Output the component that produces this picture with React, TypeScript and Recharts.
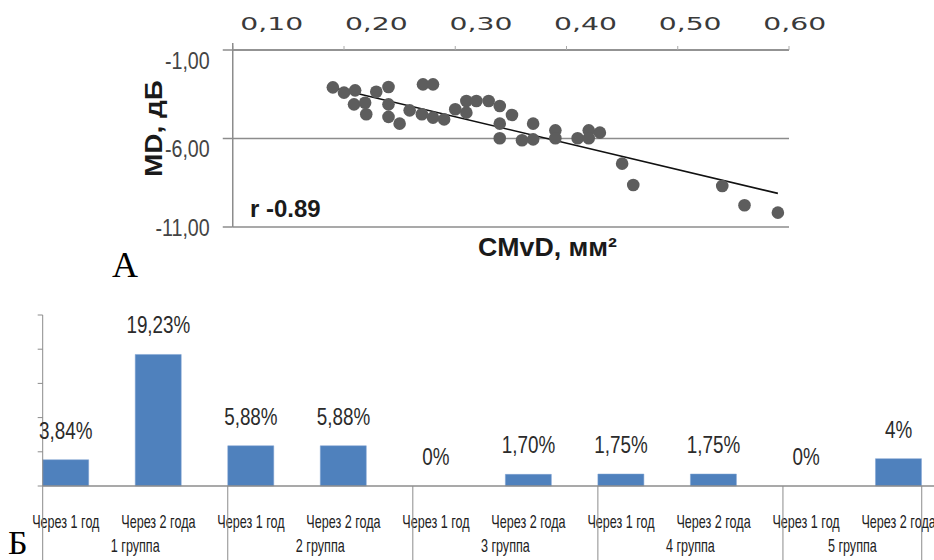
import {
  ScatterChart,
  Scatter,
  XAxis,
  YAxis,
  CartesianGrid,
  ReferenceLine,
  ComposedChart,
  Bar,
  Line,
  LabelList,
} from 'recharts';

// ── Panel A: CMvD (mm²) vs MD (dB) ─────────────────────────────────────────────
const CMVD = [
  0.19, 0.2, 0.21, 0.209, 0.219, 0.22, 0.229, 0.24, 0.24, 0.24,
  0.25, 0.259, 0.271, 0.28, 0.27, 0.28, 0.29, 0.3, 0.31, 0.31,
  0.319, 0.33, 0.34, 0.351, 0.34, 0.34, 0.36, 0.37, 0.37, 0.39,
  0.39, 0.41, 0.42, 0.42, 0.43, 0.45, 0.46, 0.54, 0.56, 0.59,
];
const MD = [
  -3.11, -3.41, -3.28, -4.07, -3.98, -4.63, -3.36, -3.09, -4.07, -4.78,
  -5.16, -4.41, -2.94, -2.94, -4.63, -4.82, -4.92, -4.35, -3.88, -4.54,
  -3.88, -3.88, -4.16, -4.67, -5.16, -5.99, -6.1, -5.16, -6.05, -5.54,
  -5.99, -5.99, -5.54, -5.99, -5.67, -7.42, -8.63, -8.68, -9.77, -10.19,
];
const TREND_X = [0.19, 0.59];
const TREND_Y = [-3.13, -9.1];
const X_TICKS = [0.1, 0.2, 0.3, 0.4, 0.5, 0.6];
const Y_TICKS = [-11, -6, -1];

// ── Panel Б: rate by group and period ───────────────────────────────────────────
const PERIODS = [
  'Через 1 год', 'Через 2 года', 'Через 1 год', 'Через 2 года', 'Через 1 год',
  'Через 2 года', 'Через 1 год', 'Через 2 года', 'Через 1 год', 'Через 2 года',
];
const GROUPS = ['1 группа', '2 группа', '3 группа', '4 группа', '5 группа'];
const RATES = [3.84, 19.23, 5.88, 5.88, 0, 1.7, 1.75, 1.75, 0, 4];
const RATE_LABELS = ['3,84%', '19,23%', '5,88%', '5,88%', '0%', '1,70%', '1,75%', '1,75%', '0%', '4%'];
const RATE_TICKS = [0, 5, 10, 15, 20, 25];

const scatterData = CMVD.map((x, i) => ({ x, y: MD[i] }));
const trendSegment = TREND_X.map((x, i) => ({ x, y: TREND_Y[i] }));
const barData = RATES.map((v, i) => ({
  key: `${GROUPS[Math.floor(i / 2)]}|${PERIODS[i]}`,
  v,
}));

const AXIS = '#8c8c8c';
const SANS = '"Liberation Sans", Arial, sans-serif';

// bar chart geometry
const BAR_W = 968;
const BAR_H = 270;
const BAR_Y_AXIS_W = 42.7;
const BAR_X_AXIS_H = 74;
const BAND = (BAR_W - BAR_Y_AXIS_W) / RATES.length;

const Narrow = ({ x, y, sx, anchor = 'middle', size, fill = '#333', weight = 400, family = SANS, children }: any) => (
  <text
    transform={`translate(${x},${y}) scale(${sx},1)`}
    textAnchor={anchor}
    fontSize={size}
    fontFamily={family}
    fontWeight={weight}
    fill={fill}
  >
    {children}
  </text>
);

const TopTick = ({ x, y, payload }: any) => {
  const v = Number(payload.value);
  // labels in the source drift right of their ticks, more so on the left
  const cx = x + 39 - (v - 0.1) * 66.5;
  return (
    <Narrow x={cx} y={y - 14} sx={1.57} size={18} fill="#3a3a3a" family='"DejaVu Sans", Verdana, sans-serif'>
      {v.toFixed(2).replace('.', ',')}
    </Narrow>
  );
};

const LeftTick = ({ x, y, payload }: any) => {
  const v = Number(payload.value);
  return (
    <Narrow x={x - 11} y={y + (v === -11 ? 8.5 : 18.5)} sx={0.82} anchor="end" size={24} fill="#444">
      {v.toFixed(2).replace('.', ',')}
    </Narrow>
  );
};

const PeriodTick = (props: any) => {
  const { x, y } = props;
  const i = props.index ?? props.payload?.index ?? 0;
  const start = x - BAND / 2;
  const bottom = y + BAR_X_AXIS_H;
  const isGroupStart = i % 2 === 0;
  const end = i + 2 < RATES.length ? start + 2 * BAND : x + BAND;
  return (
    <g>
      <Narrow x={x - BAND / 4} y={y + 42} sx={0.7} size={18} fill="#222">
        {PERIODS[i]}
      </Narrow>
      {isGroupStart && (
        <>
          <line x1={start} x2={start} y1={y} y2={bottom} stroke={AXIS} strokeWidth={1} />
          <Narrow x={(start + end) / 2} y={y + 66} sx={0.7} size={18} fill="#222">
            {GROUPS[i / 2]}
          </Narrow>
        </>
      )}
      {i === RATES.length - 1 && (
        <line x1={x} x2={x} y1={y} y2={bottom} stroke={AXIS} strokeWidth={1} />
      )}
    </g>
  );
};

// labels ride on an invisible line so that zero-height bars still get one;
// the line point sits at the band centre, the bar in the left half
const RateLabel = ({ x, y, index }: any) => (
  <Narrow x={Number(x) - BAND / 4} y={Number(y) - 21} sx={0.82} size={23} fill="#2b2b2b">
    {RATE_LABELS[index]}
  </Narrow>
);

export default function App() {
  return (
    <div style={{ position: 'absolute', left: 0, top: 0, width: 934, height: 560, overflow: 'hidden', background: '#fff' }}>
      <div style={{ position: 'absolute', left: 0, top: 0 }}>
        <ScatterChart width={934} height={290} margin={{ top: 0, right: 145, bottom: 63, left: 0 }}>
          <CartesianGrid vertical={false} stroke={AXIS} strokeWidth={1.5} />
          <XAxis
            type="number"
            dataKey="x"
            orientation="top"
            domain={[0.1, 0.6]}
            ticks={X_TICKS}
            height={50}
            axisLine={{ stroke: AXIS, strokeWidth: 1.5 }}
            tickLine={{ stroke: '#aaa' }}
            tickSize={4}
            tick={TopTick}
            interval={0}
          />
          <YAxis
            type="number"
            dataKey="y"
            domain={[-11, -1]}
            ticks={Y_TICKS}
            width={232.75}
            axisLine={{ stroke: AXIS, strokeWidth: 1.5 }}
            tickLine={{ stroke: AXIS, strokeWidth: 1.5 }}
            tickSize={10}
            tick={LeftTick}
            interval={0}
          />
          <Scatter
            data={scatterData}
            isAnimationActive={false}
            shape={(p: any) => <circle cx={p.cx} cy={p.cy} r={6.3} fill="#5d5d5d" />}
          />
          <ReferenceLine segment={trendSegment} stroke="#111" strokeWidth={1.6} ifOverflow="visible" />
        </ScatterChart>
      </div>

      <div style={{ position: 'absolute', left: 0, top: 290 }}>
        <ComposedChart
          width={BAR_W}
          height={BAR_H}
          data={barData}
          margin={{ top: 25, right: 0, bottom: 0, left: 0 }}
          barCategoryGap={0}
          barGap={0}
        >
          <XAxis
            dataKey="key"
            height={BAR_X_AXIS_H}
            axisLine={{ stroke: AXIS, strokeWidth: 1.5 }}
            tickLine={false}
            tickSize={0}
            tickMargin={0}
            interval={0}
            tick={PeriodTick}
          />
          <YAxis
            domain={[0, 25]}
            ticks={RATE_TICKS}
            width={BAR_Y_AXIS_W}
            axisLine={{ stroke: AXIS }}
            tickLine={{ stroke: AXIS }}
            tickSize={5}
            tick={() => <g />}
            interval={0}
          />
          <Bar dataKey="v" fill="#4f81bd" stroke="#7ea3d3" strokeWidth={0.5} isAnimationActive={false} />
          {/* empty second series keeps each bar in the left half of its slot */}
          <Bar dataKey="none" fill="none" isAnimationActive={false} />
          <Line dataKey="v" stroke="none" dot={false} activeDot={false} isAnimationActive={false}>
            <LabelList dataKey="v" content={RateLabel} />
          </Line>
        </ComposedChart>
      </div>

      <svg width={934} height={560} style={{ position: 'absolute', left: 0, top: 0, pointerEvents: 'none' }}>
        <line x1={232.75} x2={232.75} y1={43} y2={50} stroke={AXIS} strokeWidth={1.5} />
        <text transform="translate(162,128.5) rotate(-90)" textAnchor="middle" fontSize={24} fontWeight={700}
          fontFamily={SANS} fill="#1a1a1a" textLength={97} lengthAdjust="spacingAndGlyphs">
          MD, дБ
        </text>
        <text x={250} y={217} fontSize={24} fontWeight={700} fontFamily={SANS} fill="#1a1a1a">
          r -0.89
        </text>
        <text x={478} y={256} fontSize={25} fontWeight={700} fontFamily={SANS} fill="#1a1a1a"
          textLength={139} lengthAdjust="spacingAndGlyphs">
          CMvD, мм²
        </text>
        <text x={112} y={277} fontSize={36} fontFamily='"Liberation Serif", "Times New Roman", serif' fill="#000">
          A
        </text>
        <text x={8} y={554} fontSize={34} fontFamily='"Liberation Serif", "Times New Roman", serif' fill="#000">
          Б
        </text>
      </svg>
    </div>
  );
}
